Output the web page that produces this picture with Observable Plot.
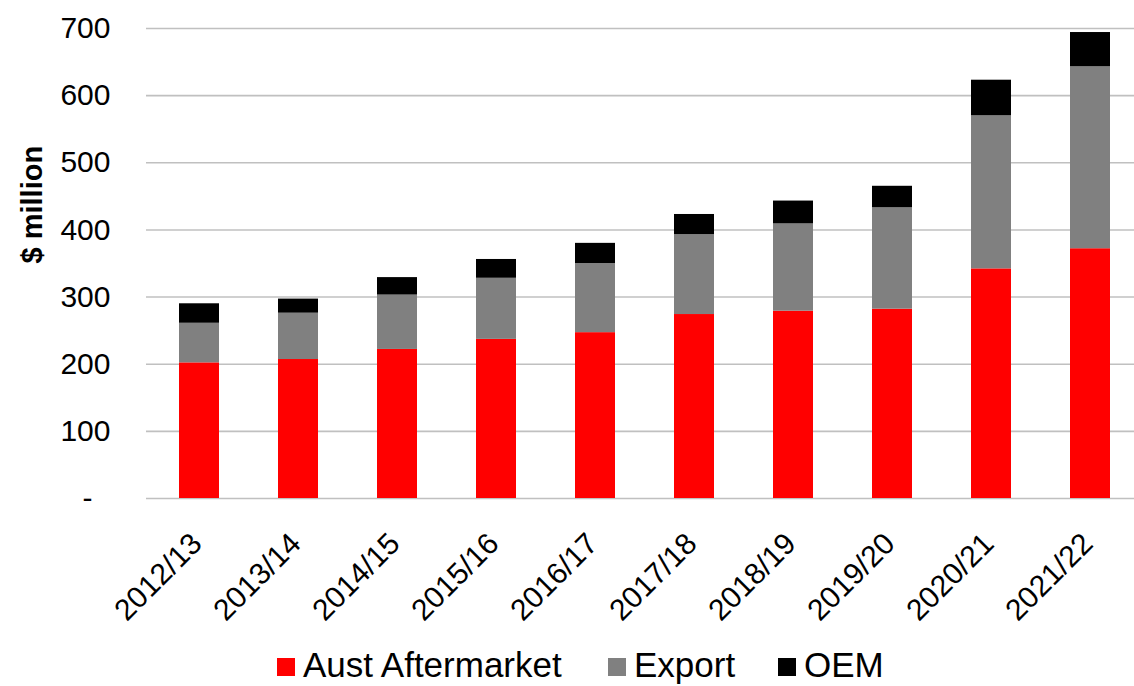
<!DOCTYPE html>
<html>
<head>
<meta charset="utf-8">
<script src="https://cdn.jsdelivr.net/npm/d3@7"></script>
<script src="https://cdn.jsdelivr.net/npm/@observablehq/plot@0.6"></script>
<style>
  html, body { margin: 0; padding: 0; background: #fff; overflow: hidden; }
  #wrap { position: relative; width: 1134px; height: 686px; overflow: hidden; font-family: "Liberation Sans", Arial, sans-serif; }
  #chart svg { display: block; }
  .item { position: absolute; top: 645px; height: 40px; display: flex; align-items: center; font-size: 35px; color: #000; white-space: nowrap; }
  .sw { width: 18px; height: 18px; margin-right: 8px; margin-top: 4px; }
</style>
</head>
<body>
<div id="wrap">
  <div id="chart"></div>
  <div id="legend"></div>
</div>
<script>
const years = ["2012/13","2013/14","2014/15","2015/16","2016/17","2017/18","2018/19","2019/20","2020/21","2021/22"];
const aftermarket = [202, 207, 222, 237, 247, 274, 279, 282, 342, 372];
const exportVals  = [ 59,  69,  81,  91, 103, 119, 130, 151, 228, 271];
const oem         = [ 29,  21,  26,  28,  30,  30,  34,  32,  53,  51];
const seriesNames = ["Aust Aftermarket", "Export", "OEM"];
const seriesColors = ["#ff0000", "#808080", "#000000"];
const yTicks = [0, 100, 200, 300, 400, 500, 600, 700];

const seriesValues = [aftermarket, exportVals, oem];
const rows = [];
years.forEach((yr, i) => {
  seriesNames.forEach((s, j) => rows.push({year: yr, series: s, value: seriesValues[j][i]}));
});

const plot = Plot.plot({
  width: 1134,
  height: 630,
  marginTop: 28,
  marginBottom: 132,
  marginLeft: 146,
  marginRight: -8,
  style: {fontFamily: "'Liberation Sans', Arial, sans-serif", color: "#000", background: "#fff"},
  x: {type: "band", domain: years, paddingInner: 0.6, paddingOuter: 0.3, axis: null},
  y: {domain: [0, 700]},
  color: {domain: seriesNames, range: seriesColors},
  marks: [
    Plot.ruleY(yTicks, {stroke: "#c0c0c0", strokeWidth: 1.6}),
    Plot.barY(rows, {x: "year", y: "value", fill: "series"}),
    Plot.axisY(yTicks.filter(d => d > 0), {label: null, tickSize: 0, tickPadding: 36, fontSize: 30, tickFormat: d => String(d)}),
    Plot.axisY([0], {label: null, tickSize: 0, tickPadding: 54, fontSize: 30, tickFormat: () => "-"}),
    Plot.text(["$ million"], {frameAnchor: "left", rotate: -90, dx: -114, fontSize: 29, fontWeight: "bold"}),
    Plot.text(years, {x: d => d, frameAnchor: "bottom", rotate: -45, textAnchor: "end", lineAnchor: "bottom", dx: 4, dy: 47, fontSize: 30})
  ]
});
document.getElementById("chart").appendChild(plot);

const legend = document.getElementById("legend");
const legendLeft = [277, 608, 778];
seriesNames.forEach((s, j) => {
  const item = document.createElement("div");
  item.className = "item";
  item.style.left = legendLeft[j] + "px";
  const sw = document.createElement("span");
  sw.className = "sw";
  sw.style.background = seriesColors[j];
  const label = document.createElement("span");
  label.textContent = s;
  item.appendChild(sw);
  item.appendChild(label);
  legend.appendChild(item);
});
</script>
</body>
</html>
